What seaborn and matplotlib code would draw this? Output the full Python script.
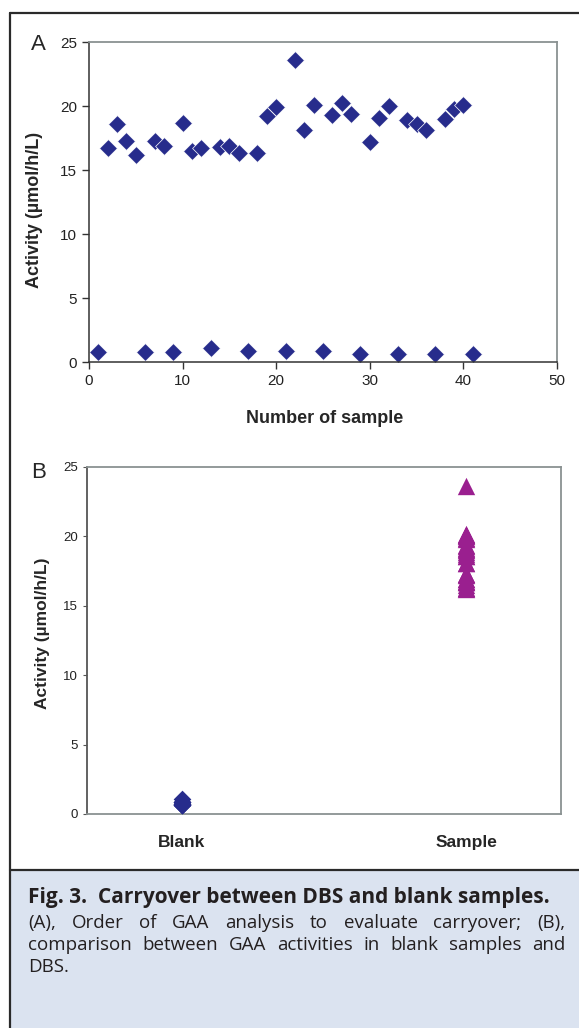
import numpy as np
import pandas as pd
import matplotlib
matplotlib.use('Agg')
import matplotlib.pyplot as plt
import seaborn as sns
from matplotlib.lines import Line2D
from matplotlib.patches import Rectangle

# values
sample_no = list(range(1, 42))
activity = [0.75, 16.7, 18.6, 17.3, 16.2, 0.75, 17.3, 16.9, 0.75, 18.7,
            16.5, 16.7, 1.07, 16.8, 16.9, 16.3, 0.83, 16.3, 19.2, 19.9,
            0.83, 23.6, 18.1, 20.1, 0.83, 19.3, 20.2, 19.4, 0.65, 17.2,
            19.1, 20.0, 0.65, 18.9, 18.6, 18.1, 0.65, 19.0, 19.8, 20.1, 0.65]
blank_no = [1, 6, 9, 13, 17, 21, 25, 29, 33, 37, 41]
group_order = ['Blank', 'Sample']
y_ticks = [0, 5, 10, 15, 20, 25]
x_ticks = [0, 10, 20, 30, 40, 50]

caption_title = 'Fig. 3.  Carryover between DBS and blank samples.'
caption_lines = ['(A), Order of GAA analysis to evaluate carryover; (B),',
                 'comparison between GAA activities in blank samples and',
                 'DBS.']

df = pd.DataFrame({'sample': sample_no, 'activity': activity})
df['group'] = np.where(df['sample'].isin(blank_no), 'Blank', 'Sample')

navy = '#272c8c'
magenta = '#9a1f8f'

sns.set_style('ticks')
plt.rcParams['font.family'] = ['Liberation Sans', 'DejaVu Sans']

W, H = 579, 1028
fig = plt.figure(figsize=(W / 100, H / 100), dpi=100)


def px_box(left, top, right, bottom):
    return [left / W, 1 - bottom / H, (right - left) / W, (bottom - top) / H]


# ---- panel A ----
axA = fig.add_axes(px_box(89, 42, 557, 362))
sns.scatterplot(data=df, x='sample', y='activity', marker='D', s=82,
                color=navy, edgecolor='white', linewidth=0.5, ax=axA)
axA.set_xlim(0, 50)
axA.set_ylim(0, 25)
axA.set_xticks(x_ticks)
axA.set_yticks(y_ticks)
axA.tick_params(labelsize=11, length=5, width=1, colors='#333333', labelcolor='#222222')
axA.set_xlabel('Number of sample', fontsize=13, fontweight='bold')
axA.set_ylabel('Activity (µmol/h/L)', fontsize=13, fontweight='bold')
axA.xaxis.set_label_coords(0.504, -0.15)
axA.yaxis.set_label_coords(-0.098, 0.475)
for s in ['left', 'bottom']:
    axA.spines[s].set_color('#333333')
    axA.spines[s].set_linewidth(1.1)
for s in ['top', 'right']:
    axA.spines[s].set_visible(True)
    axA.spines[s].set_color('#8a9292')
    axA.spines[s].set_linewidth(1.3)
fig.text(38 / W, 1 - 45 / H, 'A', fontsize=16, ha='center', va='center')

# ---- panel B ----
axB = fig.add_axes(px_box(87, 467, 561, 814))
sns.stripplot(data=df[df['group'] == 'Blank'], x='group', y='activity',
              order=group_order, jitter=False, marker='D', size=9,
              color=navy, linewidth=0, ax=axB)
sns.stripplot(data=df[df['group'] == 'Sample'], x='group', y='activity',
              order=group_order, jitter=False, marker='^', size=12.5,
              color=magenta, linewidth=0, ax=axB)
axB.set_xlim(-1 / 3, 4 / 3)
axB.set_ylim(0, 25)
axB.set_yticks(y_ticks)
axB.tick_params(axis='y', labelsize=9.5, length=3, colors='#555555', labelcolor='#222222')
axB.tick_params(axis='x', length=0, pad=15, labelsize=12.5)
for lab in axB.get_xticklabels():
    lab.set_fontweight('bold')
axB.set_xlabel('')
axB.set_ylabel('Activity (µmol/h/L)', fontsize=12.5, fontweight='bold')
axB.yaxis.set_label_coords(-0.078, 0.52)
for s in ['top', 'right', 'left', 'bottom']:
    axB.spines[s].set_visible(True)
    axB.spines[s].set_color('#8a9292')
    axB.spines[s].set_linewidth(1.3)
axB.spines['left'].set_color('#555555')
fig.text(39 / W, 1 - 473 / H, 'B', fontsize=16, ha='center', va='center')

# ---- caption box and frame ----
fig.add_artist(Rectangle((10 / W, 0), 1, (H - 870) / H, transform=fig.transFigure,
                         facecolor='#dbe3f0', edgecolor='none', zorder=0))
frame_kw = dict(transform=fig.transFigure, color='#2a2a2a', linewidth=1.6)
fig.add_artist(Line2D([10 / W, 1], [1 - 13 / H, 1 - 13 / H], **frame_kw))
fig.add_artist(Line2D([10 / W, 10 / W], [0, 1 - 13 / H], **frame_kw))
fig.add_artist(Line2D([10 / W, 1], [1 - 870 / H, 1 - 870 / H], **frame_kw))

cap_font = ['Open Sans', 'DejaVu Sans']
renderer = fig.canvas.get_renderer()
text_left, text_right = 28, 565
body_size = 13.5

t = fig.text(text_left / W, 1 - 898 / H, caption_title, fontsize=12.5,
             fontweight='bold', family=cap_font, va='center', color='#231f20')
w = t.get_window_extent(renderer).width
t.set_fontsize(12.5 * 522 / w)

line_y = [923, 945, 967]
for i, (line, yy) in enumerate(zip(caption_lines, line_y)):
    words = line.split(' ')
    if i == len(caption_lines) - 1:
        fig.text(text_left / W, 1 - yy / H, line, fontsize=body_size, family=cap_font,
                 va='center', color='#231f20')
        continue
    objs = [fig.text(0, 1 - yy / H, wd, fontsize=body_size, family=cap_font,
                     va='center', color='#231f20') for wd in words]
    widths = [o.get_window_extent(renderer).width for o in objs]
    gap = (text_right - text_left - sum(widths)) / (len(words) - 1)
    x = text_left
    for o, wd in zip(objs, widths):
        o.set_x(x / W)
        x += wd + gap

fig.savefig('out.png', dpi=100)
plt.close(fig)
